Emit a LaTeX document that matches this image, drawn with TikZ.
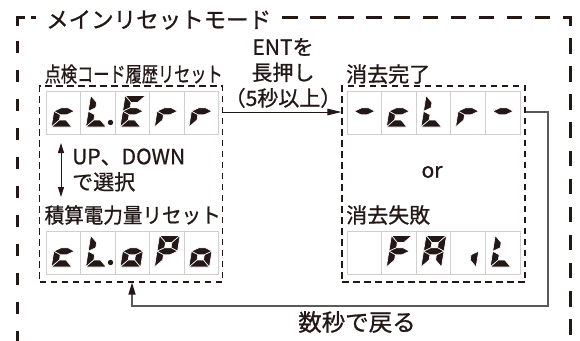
\documentclass[tikz,border=0pt]{standalone}
\usepackage{fontspec}
\usepackage{graphicx}
\setmainfont{Noto Sans CJK JP}[FakeBold=0.8]
\usetikzlibrary{arrows.meta}
\definecolor{ink}{HTML}{231815}
\definecolor{cellgray}{HTML}{CFCFCF}
\definecolor{retgray}{HTML}{5A5A5A}
\tikzset{
  seg/.style={fill=ink, draw=white, line width=0.6pt, rounded corners=0.5pt},
  cellst/.style={draw=cellgray, line width=1pt, fill=white},
  groupbox/.style={draw=ink, line width=1.1pt, dash pattern=on 6.5pt off 4.5pt, inner sep=0pt, minimum width=183pt, minimum height=196pt},
  outer/.style={draw=ink, line width=3pt},
  lbl/.style={inner sep=0pt, text=ink, font=\fontsize{21}{25.5}\selectfont},
  flow/.style={draw=ink, line width=1pt},
  ret/.style={draw=retgray, line width=1.2pt},
}
\newcommand\dgsa{\path[seg] (0,-31.5) -- (20.5,-31.5) -- (13.5,-24.5) -- (7,-24.5) -- cycle;}
\newcommand\dgsb{\path[seg] (20.5,-31.5) -- (20.5,-15.75) -- (13.5,-19.25) -- (13.5,-24.5) -- cycle;}
\newcommand\dgsc{\path[seg] (20.5,-15.75) -- (20.5,0) -- (13.5,-7) -- (13.5,-12.25) -- cycle;}
\newcommand\dgsd{\path[seg] (0,0) -- (20.5,0) -- (13.5,-7) -- (7,-7) -- cycle;}
\newcommand\dgse{\path[seg] (0,-15.75) -- (7,-12.25) -- (7,-7) -- (0,0) -- cycle;}
\newcommand\dgsf{\path[seg] (0,-31.5) -- (7,-24.5) -- (7,-19.25) -- (0,-15.75) -- cycle;}
\newcommand\dgsg{\path[seg] (0,-15.75) -- (7,-19.25) -- (13.5,-19.25) -- (20.5,-15.75) -- (13.5,-12.25) -- (7,-12.25) -- cycle;}
% digit: x of cell left, y of cell top, segment list
\newcommand\sevdigit[3]{%
  \begin{scope}[shift={({#1+4.8},{#2+36})}, xslant=0.16]
    \foreach \s in {#3} {\csname dgs\s\endcsname}
  \end{scope}}
% display: x0, y0, cell width, then five segment lists
\newcommand\sevdisplay[8]{%
  \foreach \i in {0,...,4} {\path[cellst] ({#1+\i*#3},#2) rectangle ++(#3,43.5);}
  \sevdigit{#1}{#2}{#4}
  \sevdigit{#1+#3}{#2}{#5}
  \sevdigit{#1+2*#3}{#2}{#6}
  \sevdigit{#1+3*#3}{#2}{#7}
  \sevdigit{#1+4*#3}{#2}{#8}}
\newcommand\sevdot[3]{\fill[ink] ({#1+2*#3-4.8},{#2+31.5}) circle (2.7);}
\begin{document}
\begin{tikzpicture}[x=1pt,y=-1pt]
\useasboundingbox (0,0) rectangle (580,340);
\fill[white] (0,0) rectangle (580,340);
% outer mode frame
\draw[outer] (35.5,17) -- (31,17);
\draw[outer, line join=miter] (25,17) -- (17,17) -- (17,26);
\draw[outer, dash pattern=on 12pt off 17pt] (17,41) -- (17,345);
\draw[outer, line join=miter, dash pattern=on 15.5pt off 12.6pt] (282,17) -- (570,17) -- (570,345);
\node[lbl, anchor=west, font=\fontsize{22.5}{25}\selectfont] (title) at (46,20) {メインリセットモード};
% group boxes
\node[groupbox] (lbox) at (131,184) {};
\node[groupbox] (rbox) at (433.5,184) {};
% displays
\sevdisplay{46.5}{91}{34.4}{g,e,d}{f,e,d}{a,f,g,e,d}{g,e}{g,e}
\sevdot{46.5}{91}{34.4}
\sevdisplay{46.5}{231}{34.4}{g,e,d}{f,e,d}{g,e,d,c}{a,b,f,g,e}{g,e,d,c}
\sevdot{46.5}{231}{34.4}
\sevdisplay{347}{91}{34.6}{g}{g,e,d}{f,e,d}{g,e}{g}
\sevdisplay{347}{231}{34.6}{}{a,f,g,e}{a,b,c,e,f,g}{c}{f,e,d}
% labels
\node[lbl, anchor=west] (lab1) at (44.5,74) {\resizebox{178pt}{\height}{点検コード履歴リセット}};
\node[lbl, anchor=west] (lab2) at (44.5,215) {\resizebox{176pt}{\height}{積算電力量リセット}};
\node[lbl, anchor=west] (lab3) at (346,74) {消去完了};
\node[lbl, anchor=west] (lab4) at (346,215) {消去失敗};
\node[lbl] (orlbl) at (432,172) {or};
\node[lbl, align=center] (entlbl) at (283,73) {ENTを\\長押し\\（5秒以上）};
\node[lbl, align=left, anchor=west] (updn) at (72,170) {UP、DOWN\\で選択};
\node[lbl, font=\fontsize{23.5}{25}\selectfont] (backlbl) at (357,322) {数秒で戻る};
% connectors
\coordinate (entY) at (0,112);
\coordinate (upA) at (61,143);
\coordinate (upB) at (61,197);
\coordinate (retR) at (548,306);
\coordinate (retL) at (132,306);
\draw[flow, -{Triangle[length=14pt,width=6.5pt]}] (lbox.east |- entY) -- (rbox.west |- entY);
\draw[flow, {Triangle[length=10pt,width=6pt]}-{Triangle[length=10pt,width=6pt]}] (upA) -- (upB);
\draw[ret, -{Triangle[length=12pt,width=7pt,color=ink]}] (rbox.east |- entY) -| (retR) -- (retL) -- (lbox.south -| retL);
\end{tikzpicture}
\end{document}
